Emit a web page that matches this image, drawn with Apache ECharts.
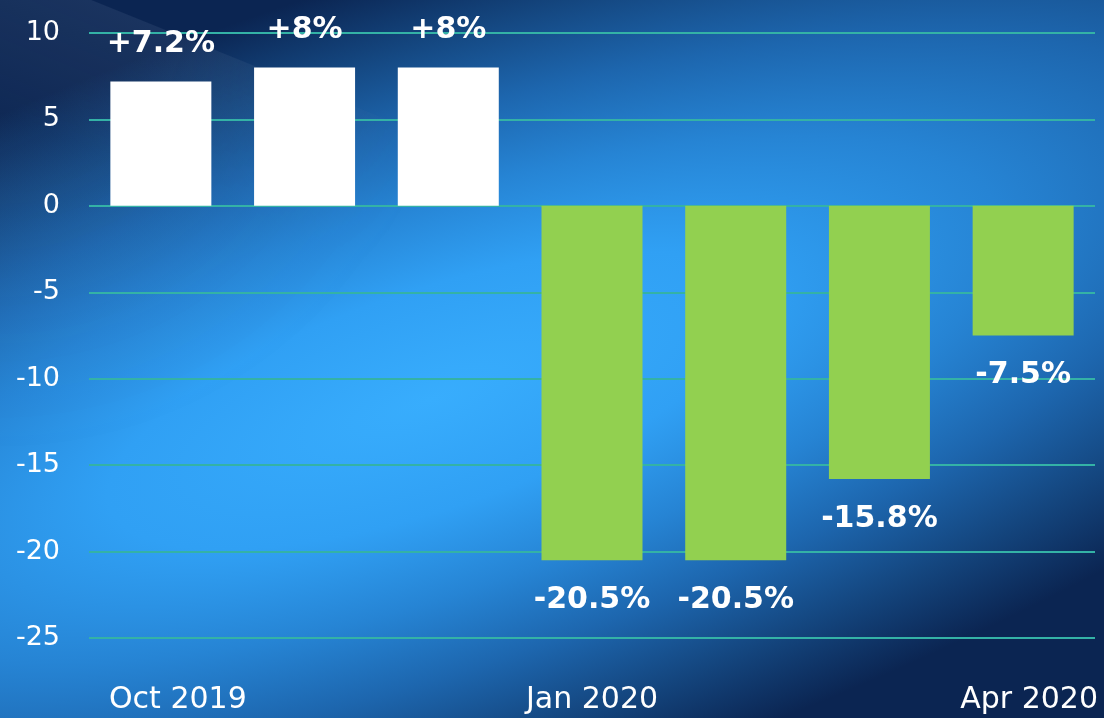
<!DOCTYPE html>
<html>
<head>
<meta charset="utf-8">
<title>Monthly change</title>
<script src="https://cdn.jsdelivr.net/npm/echarts@6/dist/echarts.min.js"></script>
<style>
  html, body { margin: 0; padding: 0; width: 1104px; height: 718px; overflow: hidden; background: #0a2248; }
  #stage { position: relative; width: 1104px; height: 718px; overflow: hidden; }
  /* tilted glow band running from lower left to upper right */
  #glow {
    position: absolute; left: -1070px; top: -1100px; width: 3000px; height: 3000px;
    transform: rotate(-18.5deg);
    background: radial-gradient(ellipse 1300px 420px at 50% 50%,
      #38adfd 0%, #30a0f4 26%, #2684d4 46%, #1d66ae 64%, #14467f 82%, #0b2552 100%);
  }
  /* faint sheet in the upper-left corner, fading out towards the middle */
  #sheet {
    position: absolute; left: 0; top: 0; width: 1104px; height: 718px;
    background: linear-gradient(202deg, rgba(140,160,190,0) 35.1%, rgba(140,160,190,0.12) 35.2%, rgba(140,160,190,0.04) 48%);
    -webkit-mask-image: radial-gradient(circle at 0 0, #000 0px, #000 180px, transparent 460px);
    mask-image: radial-gradient(circle at 0 0, #000 0px, #000 180px, transparent 460px);
  }
  #chart { position: absolute; left: 0; top: 0; width: 1104px; height: 718px; }
</style>
</head>
<body>
<div id="stage">
  <div id="glow"></div>
  <div id="sheet"></div>
  <div id="chart"></div>
</div>
<script>
// Month-over-month change, in percent
const months = ['Oct 2019', 'Nov 2019', 'Dec 2019', 'Jan 2020', 'Feb 2020', 'Mar 2020', 'Apr 2020'];
const changes = [7.2, 8, 8, -20.5, -20.5, -15.8, -7.5];

const FONT = "'Century Gothic', 'DejaVu Sans', sans-serif";
const RISE = '#ffffff';
const FALL = '#92d050';

// small nudges for the first and last month captions
const captionPad = { 'Oct 2019': [0, 0, 0, 34], 'Apr 2020': [0, 0, 0, 12] };

const chart = echarts.init(document.getElementById('chart'), null, { renderer: 'canvas' });

const barData = changes.map(function (v) {
  const up = v >= 0;
  return {
    value: v,
    itemStyle: { color: up ? RISE : FALL },
    label: { position: up ? 'top' : 'bottom', distance: up ? 22 : 25 }
  };
});

const categoryData = months.map(function (m) {
  return captionPad[m] ? { value: m, textStyle: { padding: captionPad[m] } } : m;
});

chart.setOption({
  backgroundColor: 'transparent',
  animation: false,
  grid: { left: 89, right: 9, top: 33, bottom: 80, containLabel: false },
  xAxis: {
    type: 'category',
    data: categoryData,
    position: 'bottom',
    axisLine: { show: false },
    axisTick: { show: false },
    axisLabel: {
      interval: 2,
      margin: 47,
      color: '#ffffff',
      fontFamily: FONT,
      fontSize: 30
    },
    splitLine: { show: false }
  },
  yAxis: {
    type: 'value',
    min: -25,
    max: 10,
    interval: 5,
    axisLine: { show: false },
    axisTick: { show: false },
    axisLabel: {
      margin: 29,
      color: '#ffffff',
      fontFamily: FONT,
      fontSize: 27
    },
    splitLine: { lineStyle: { color: '#34b2a6', width: 2 } }
  },
  series: [{
    type: 'bar',
    data: barData,
    barWidth: 101,
    label: {
      show: true,
      color: '#ffffff',
      fontFamily: FONT,
      fontWeight: 'bold',
      fontSize: 30,
      formatter: function (p) {
        return (p.value > 0 ? '+' : '') + p.value + '%';
      }
    }
  }]
});
</script>
</body>
</html>
